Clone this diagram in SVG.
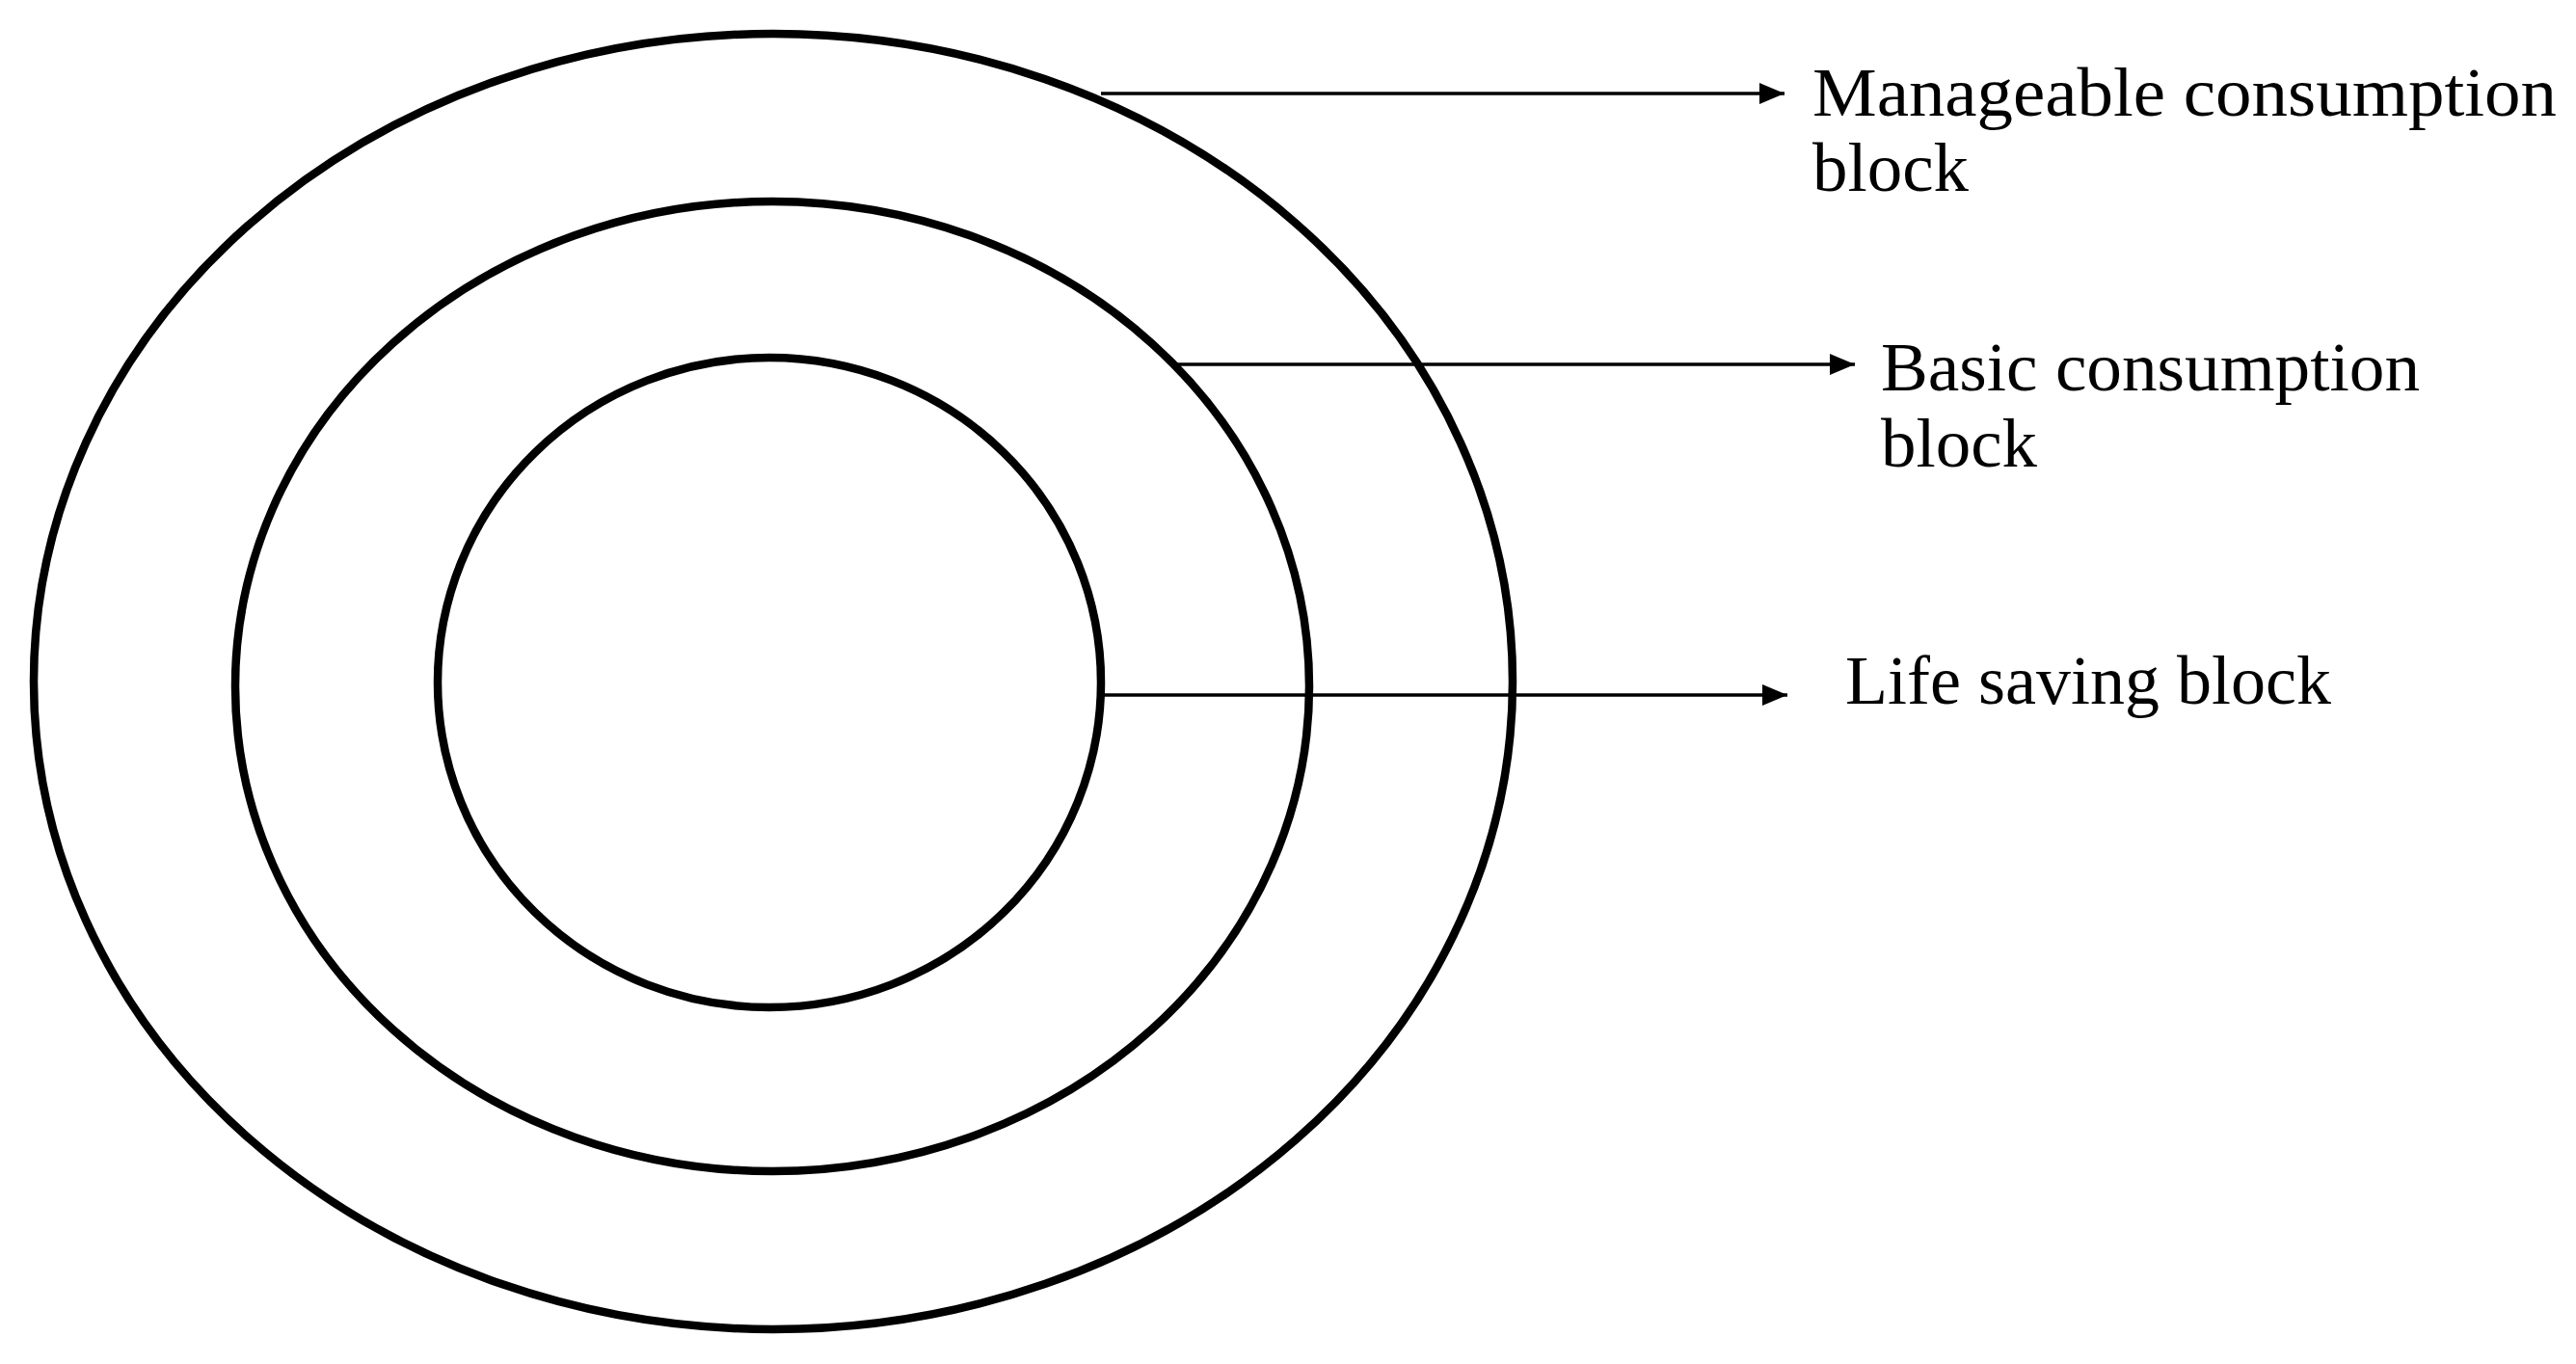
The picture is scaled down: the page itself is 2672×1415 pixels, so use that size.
<svg xmlns="http://www.w3.org/2000/svg" width="2672" height="1415" viewBox="0 0 2672 1415">
<style>
.ring{fill:none;stroke:#000;stroke-width:8.5}
.conn{stroke:#000;stroke-width:3.5;fill:none}
.lbl{font-family:"Liberation Serif","Times New Roman",serif;font-size:72px;fill:#000}
</style>
<defs>
<marker id="ah" markerUnits="userSpaceOnUse" markerWidth="28" markerHeight="26" refX="26" refY="13" orient="auto">
<path d="M0,2 L26,13 L0,24 Z" fill="#000"/>
</marker>
</defs>
<rect width="2672" height="1415" fill="#fff"/>
<g id="outer"><ellipse class="ring" cx="802" cy="707" rx="767" ry="672"/></g>
<g id="middle"><ellipse class="ring" cx="801" cy="712" rx="557" ry="503"/></g>
<g id="inner"><ellipse class="ring" cx="798" cy="708" rx="344" ry="337"/></g>
<g id="connectors">
<line class="conn" x1="1142" y1="97" x2="1851" y2="97" marker-end="url(#ah)"/>
<line class="conn" x1="1220" y1="378" x2="1924" y2="378" marker-end="url(#ah)"/>
<line class="conn" x1="1145" y1="721" x2="1854" y2="721" marker-end="url(#ah)"/>
</g>
<g id="label-manageable">
<text class="lbl" x="1880" y="120" textLength="772" lengthAdjust="spacingAndGlyphs">Manageable consumption</text>
<text class="lbl" x="1880" y="198" textLength="162" lengthAdjust="spacingAndGlyphs">block</text>
</g>
<g id="label-basic">
<text class="lbl" x="1951" y="405" textLength="559" lengthAdjust="spacingAndGlyphs">Basic consumption</text>
<text class="lbl" x="1951" y="484" textLength="162" lengthAdjust="spacingAndGlyphs">block</text>
</g>
<g id="label-life">
<text class="lbl" x="1914" y="730" textLength="504" lengthAdjust="spacingAndGlyphs">Life saving block</text>
</g>
</svg>
